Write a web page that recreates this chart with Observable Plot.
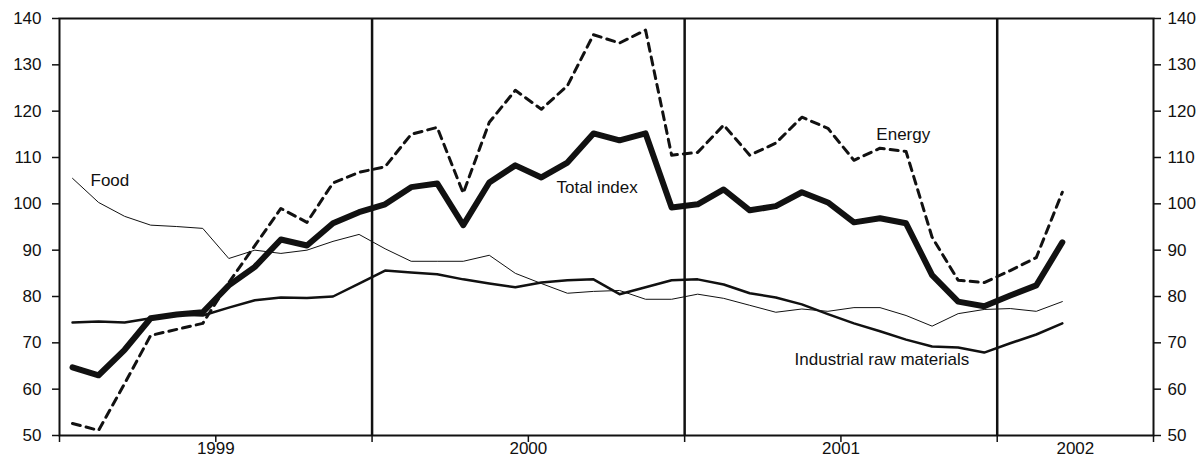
<!DOCTYPE html>
<html><head><meta charset="utf-8">
<script src="https://cdn.jsdelivr.net/npm/d3@7"></script>
<script src="https://cdn.jsdelivr.net/npm/@observablehq/plot@0.6"></script>
<style>html,body{margin:0;padding:0;background:#fff;overflow:hidden}</style>
</head><body><div id="chart"></div>
<script>
// Monthly values, January 1999 .. March 2002 (month index 0 = Jan 1999)
const months = d3.range(39);
const totalIndex = [64.7, 63.0, 68.5, 75.3, 76.1, 76.6, 82.4, 86.4, 92.3, 91.0, 95.8, 98.2, 99.9, 103.6, 104.4, 95.4, 104.6, 108.3, 105.7, 108.9, 115.2, 113.7, 115.2, 99.2, 99.9, 103.1, 98.6, 99.5, 102.5, 100.3, 96.0, 96.9, 95.8, 84.6, 78.9, 77.9, 80.2, 82.4, 91.7];
const energy = [52.6, 51.1, 61.2, 71.6, 72.9, 74.2, 83.0, 91.0, 99.0, 96.0, 104.5, 106.8, 108.0, 115.0, 116.5, 102.3, 117.6, 124.5, 120.4, 125.5, 136.5, 134.7, 137.5, 110.5, 111.1, 117.0, 110.5, 113.1, 118.7, 116.3, 109.4, 112.0, 111.3, 92.8, 83.5, 83.0, 85.6, 88.4, 102.5];
const food = [105.5, 100.3, 97.3, 95.4, 95.1, 94.7, 88.2, 90.0, 89.3, 90.0, 91.9, 93.4, 90.3, 87.6, 87.6, 87.6, 88.9, 85.0, 82.8, 80.7, 81.1, 81.3, 79.4, 79.4, 80.5, 79.6, 78.1, 76.6, 77.3, 76.8, 77.6, 77.6, 75.9, 73.6, 76.3, 77.2, 77.4, 76.8, 78.9];
const industrial = [74.4, 74.6, 74.4, 75.3, 76.1, 75.9, 77.6, 79.2, 79.8, 79.7, 80.0, 82.8, 85.6, 85.2, 84.8, 83.7, 82.8, 82.0, 83.0, 83.5, 83.7, 80.5, 82.0, 83.5, 83.7, 82.6, 80.7, 79.8, 78.3, 76.2, 74.2, 72.5, 70.7, 69.2, 69.0, 67.9, 69.9, 71.8, 74.2];

const seriesNames = ["Total index", "Energy", "Food", "Industrial raw materials"];
const labelX = [18.58, 30.86, 0.69, 27.72];
const labelY = [103.6, 115.0, 105.1, 66.4];

const yTicks = [50, 60, 70, 80, 90, 100, 110, 120, 130, 140];
const yearLabels = ["1999", "2000", "2001", "2002"];
const yearLabelPos = [5.5, 17.5, 29.5, 38.5];
const yearBounds = [11.5, 23.5, 35.5];
const xTickMarks = [-0.5, 5.5, 11.5, 17.5, 23.5, 29.5, 35.5, 41.5];

const rows = arr => months.map(i => ({m: i, v: arr[i]}));
const labels = seriesNames.map((s, i) => ({s, x: labelX[i], y: labelY[i]}));

const ink = "#111";
const font = "'Liberation Sans', Arial, Helvetica, sans-serif";

const chart = Plot.plot({
  width: 1197,
  height: 460,
  marginLeft: 59,
  marginRight: 44,
  marginTop: 18,
  marginBottom: 25,
  style: {fontFamily: font, fontSize: "17px", background: "#fff", color: ink},
  x: {domain: [-0.5, 41.5], label: null},
  y: {domain: [50, 140], label: null},
  marks: [
    Plot.ruleX(yearBounds, {stroke: ink, strokeWidth: 2.5}),
    Plot.line(rows(food), {x: "m", y: "v", stroke: ink, strokeWidth: 1}),
    Plot.line(rows(industrial), {x: "m", y: "v", stroke: ink, strokeWidth: 2.5}),
    Plot.line(rows(energy), {x: "m", y: "v", stroke: ink, strokeWidth: 3, strokeDasharray: "8,6"}),
    Plot.line(rows(totalIndex), {x: "m", y: "v", stroke: ink, strokeWidth: 6}),
    Plot.frame({stroke: ink, strokeWidth: 2}),
    Plot.axisY({anchor: "left", ticks: yTicks, tickSize: 7, tickPadding: 11, fontSize: 17, stroke: ink, strokeWidth: 1.5, label: null}),
    Plot.axisY({anchor: "right", ticks: yTicks, tickSize: 7, tickPadding: 7, fontSize: 17, stroke: ink, strokeWidth: 1.5, label: null}),
    Plot.axisX({ticks: xTickMarks, tickSize: 7, tickFormat: () => "", stroke: ink, strokeWidth: 1.5, label: null}),
    Plot.axisX({ticks: yearLabelPos, tickSize: 0, tickPadding: 6, fontSize: 17, tickFormat: d => yearLabels[yearLabelPos.indexOf(d)], label: null}),
    Plot.text(labels, {x: "x", y: "y", text: "s", textAnchor: "start", lineAnchor: "middle", fontSize: 17, fill: ink})
  ]
});
document.getElementById("chart").appendChild(chart);
</script>
</body></html>
